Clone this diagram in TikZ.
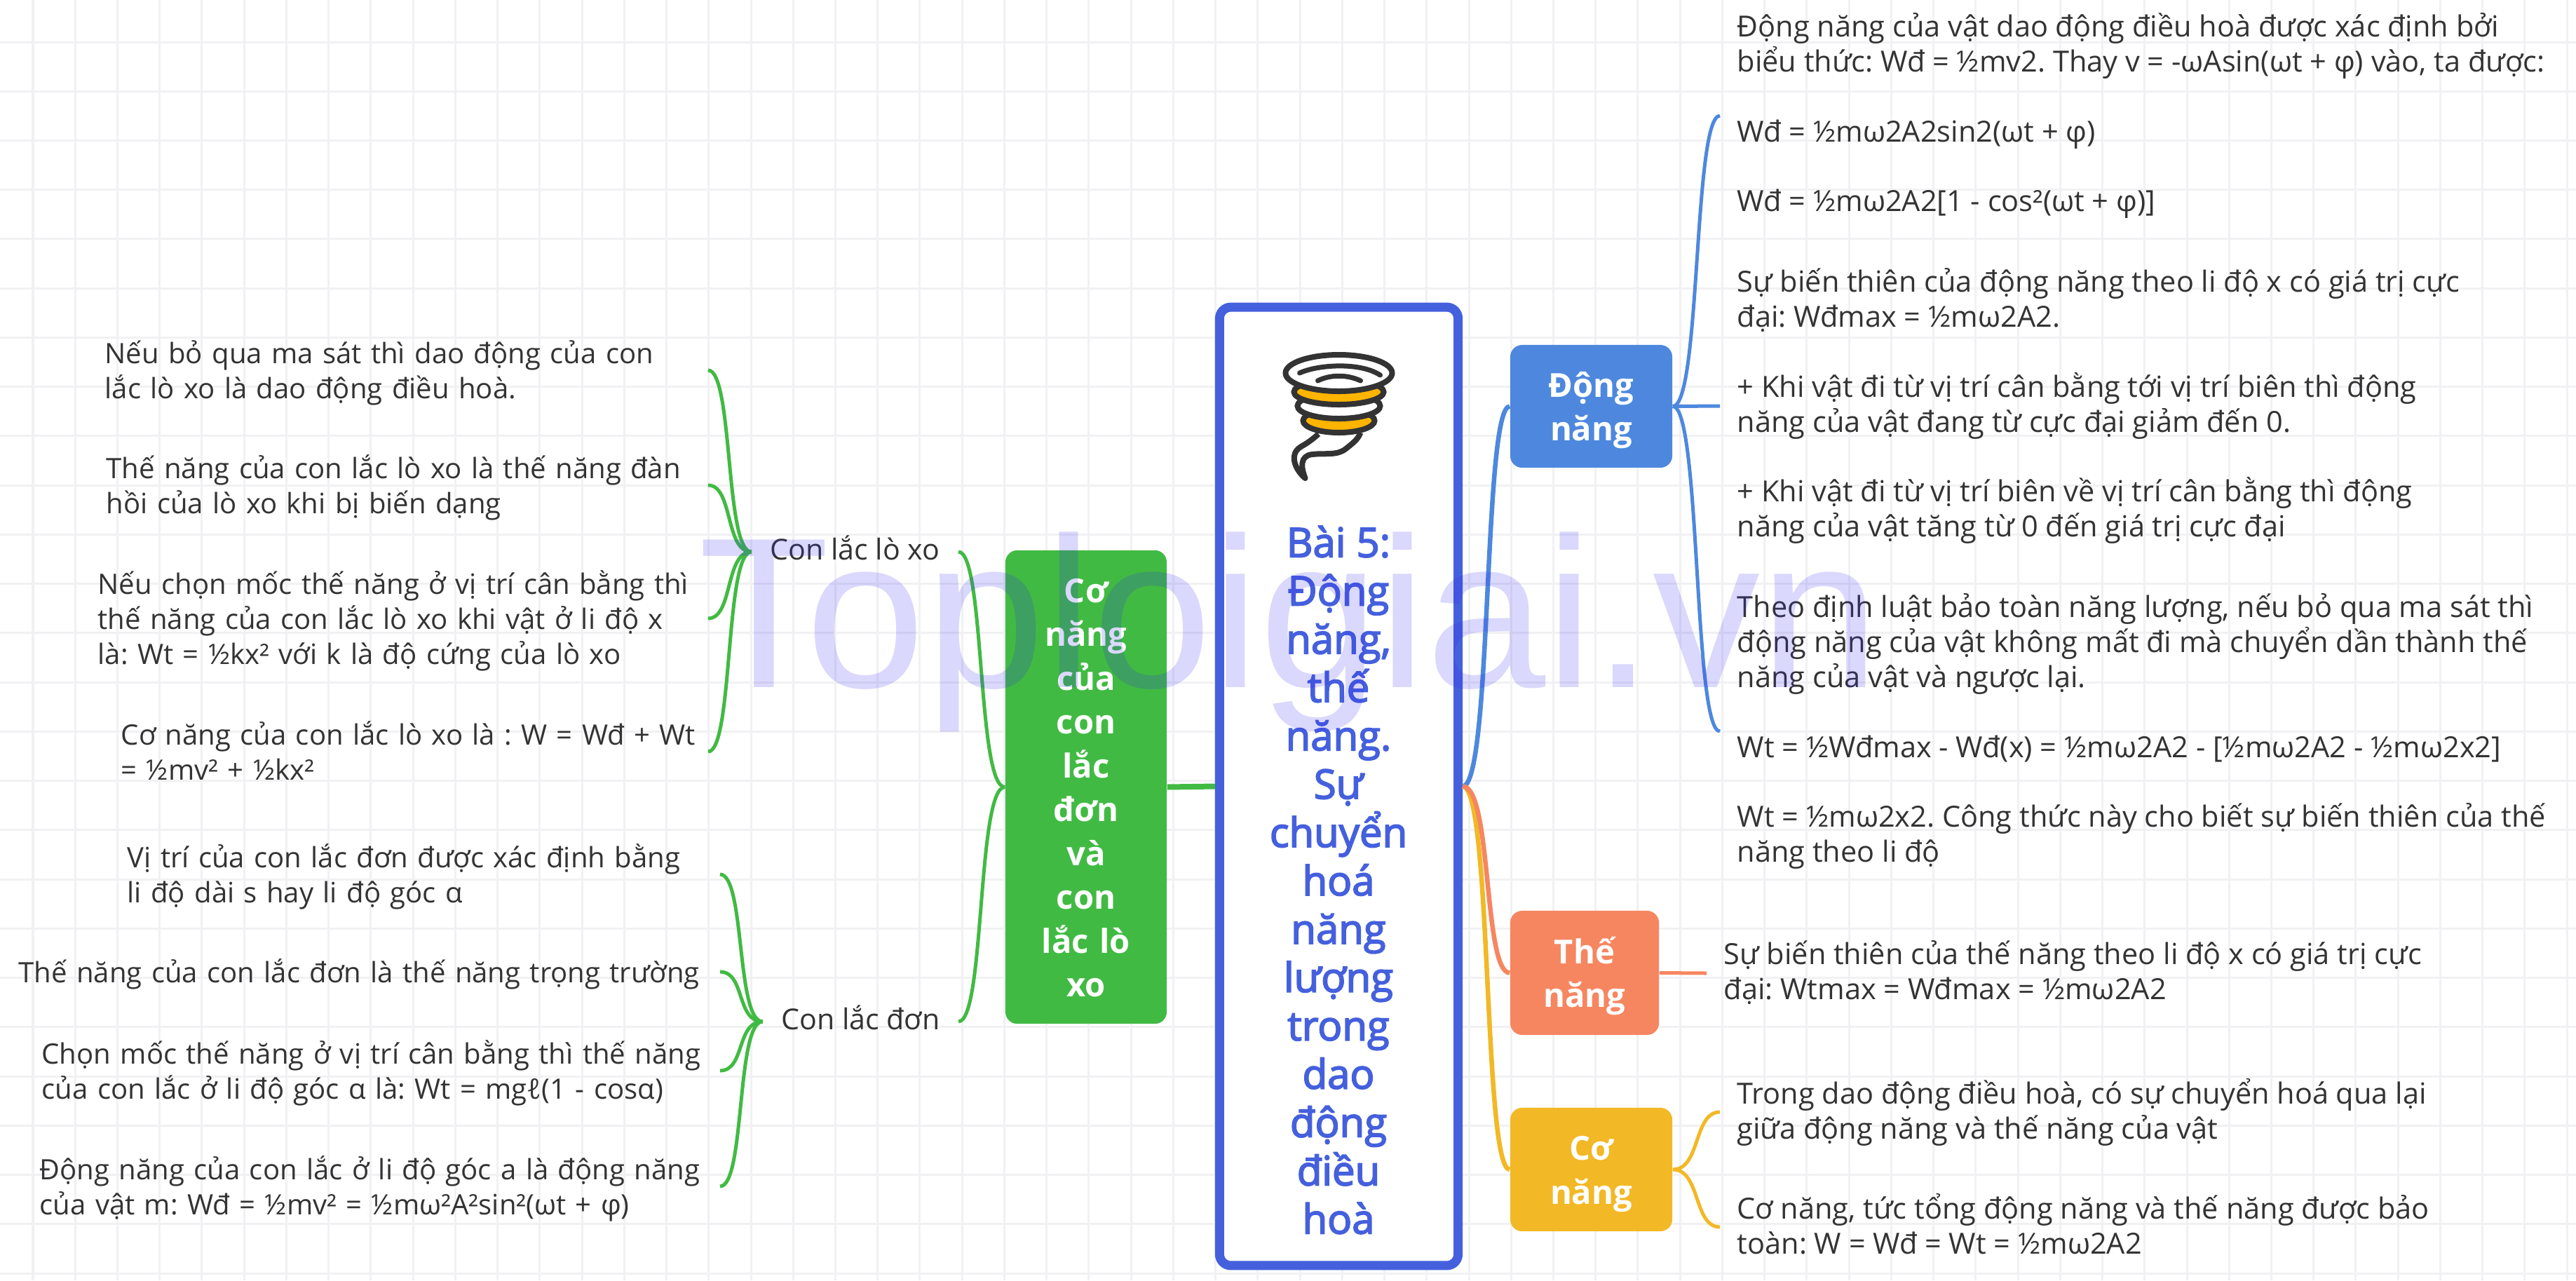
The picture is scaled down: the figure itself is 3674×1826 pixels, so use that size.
\documentclass[tikz,border=0pt]{standalone}
\usepackage{fontspec}
\setmainfont{Open Sans}
\newfontfamily\semiFont[FakeBold=3]{Open Sans}
\newfontfamily\markFont{Liberation Sans}
\frenchspacing
\definecolor{mainBlue}{HTML}{4560DD}
\definecolor{skyBlue}{HTML}{4D88DE}
\definecolor{coral}{HTML}{F68660}
\definecolor{amber}{HTML}{F2B825}
\definecolor{swirlGold}{HTML}{FFB400}
\definecolor{leafGreen}{HTML}{41BA43}
\definecolor{inkGray}{HTML}{333333}
\definecolor{gridGray}{HTML}{F1F1F4}
\definecolor{markBlue}{RGB}{50,40,240}
\tikzset{
    tornado/.pic={
		\draw[inkGray, line width=.08cm, fill=white, line join=round] (-29,87) .. controls (-38,95) and (-45,100) .. (-54,105) .. controls (-66,112) and (-66,125) .. (-59,137) .. controls (-56,142) and (-52,147) .. (-48,150) .. controls (-54,135) and (-56,118) .. (-38,116) .. controls (-20,114) and (-2,118) .. (10,108) .. controls (20,100) and (27,95) .. (31,85);
		\draw[inkGray, line width=.08cm, fill=swirlGold] (0,68) ellipse (51 and 17);
		\draw[inkGray, line width=.08cm, fill=white] (0,47) ellipse (59 and 18);
		\draw[inkGray, line width=.08cm, fill=swirlGold] (0,27) ellipse (64 and 18);
		\draw[inkGray, line width=.08cm, fill=white] (0,0) ellipse (76 and 26);
		\draw[inkGray, line width=.07cm, line cap=round] (-56,0) .. controls (-30,-12) and (30,-16) .. (59,3);
		\draw[inkGray, line width=.07cm, line cap=round] (-30,11) .. controls (-12,2) and (12,2) .. (31,11);
	}
}
\tikzset{
    evenText/.style={execute at begin node={\rule{0pt}{#1}}, execute at end node={\rule[-.24em]{0pt}{.24em}}},
    mainBox/.style={draw=mainBlue, fill=white, line width=.13cm, rounded corners=.16cm, minimum width=3.4cm, minimum height=13.66cm, inner sep=0pt},
    mainTitle/.style={text=mainBlue, align=center, inner sep=0pt, font=\semiFont\fontsize{16.5}{19.6}\selectfont},
    branchBox/.style={evenText=1em, rounded corners=.17cm, text=white, align=center, inner sep=0pt, font=\bfseries\fontsize{13.4}{17.78}\selectfont},
    leafLeft/.style={evenText=1em, text=inkGray, align=left, inner sep=0pt, anchor=west, font=\fontsize{11.4}{14.2}\selectfont},
    leafRight/.style={evenText=1.25em, text=inkGray, align=left, inner xsep=.24cm, inner ysep=0pt, anchor=west, font=\fontsize{11.8}{14.2}\selectfont},
    subTopic/.style={text=inkGray, inner xsep=.26cm, inner ysep=0pt, anchor=east, text depth=.34em, font=\fontsize{11.7}{14.2}\selectfont},
    gridLine/.style={gridGray, line width=.03cm},
    linkThick/.style={line width=.065cm},
    linkThin/.style={line width=.05cm}
}

\begin{document}
\begin{tikzpicture}[x=.01cm,y=-.01cm]
        \useasboundingbox (0,0) rectangle (3674,1826);
        \fill[white] (0,0) rectangle (3674,1826);
        \draw[gridLine, shift={(47,60)}, xstep=.602cm, ystep=.702cm] (-47,-60) grid (3627,1766);

        \node[mainBox] (main) at (1909.5,1121.5) {};
        \pic at (1909.5,532) {tornado};
        \node[mainTitle] (mainText) at (1909,1255) {Bài 5:\\Động\\năng,\\thế\\năng.\\Sự\\chuyển\\hoá\\năng\\lượng\\trong\\dao\\động\\điều\\hoà};

        \node[branchBox, fill=leafGreen, text width=2.3cm, minimum height=6.75cm] (pendulum) at (1549,1122.5) {Cơ\\năng\\của\\con\\lắc\\đơn\\và\\con\\lắc lò\\xo};
        \node[branchBox, fill=skyBlue, text width=2.31cm, minimum height=1.75cm] (kinetic) at (2269.5,579.5) {Động\\năng};
        \node[branchBox, fill=coral, text width=2.12cm, minimum height=1.77cm] (potential) at (2260,1387.5) {Thế\\năng};
        \node[branchBox, fill=amber, text width=2.31cm, minimum height=1.76cm] (energy) at (2269.5,1668) {Cơ\\năng};

        \node[subTopic] (spring) at (1367,787) {Con lắc lò xo};
        \node[subTopic] (simple) at (1367,1457) {Con lắc đơn};

        \node[leafLeft, text width=8.59cm] (springA) at (149,528) {Nếu bỏ qua ma sát thì dao động của con\\lắc lò xo là dao động điều hoà.};
        \node[leafLeft, text width=8.57cm] (springB) at (151,692) {Thế năng của con lắc lò xo là thế năng đàn\\hồi của lò xo khi bị biến dạng};
        \node[leafLeft, text width=8.69cm] (springC) at (139,882) {Nếu chọn mốc thế năng ở vị trí cân bằng thì\\thế năng của con lắc lò xo khi vật ở li độ x\\là: Wt = ½kx² với k là độ cứng của lò xo};
        \node[leafLeft, text width=8.36cm] (springD) at (172,1072) {Cơ năng của con lắc lò xo là : W = Wđ + Wt\\= ½mv² + ½kx²};

        \node[leafLeft, text width=8.44cm] (simpleA) at (181,1247) {Vị trí của con lắc đơn được xác định bằng\\li độ dài s hay li độ góc α};
        \node[leafLeft, text width=9.99cm] (simpleB) at (26,1386) {Thế năng của con lắc đơn là thế năng trọng trường};
        \node[leafLeft, text width=9.66cm] (simpleC) at (59,1527) {Chọn mốc thế năng ở vị trí cân bằng thì thế năng\\của con lắc ở li độ góc α là: Wt = mgℓ(1 - cosα)};
        \node[leafLeft, text width=9.69cm] (simpleD) at (56,1692) {Động năng của con lắc ở li độ góc a là động năng\\của vật m: Wđ = ½mv² = ½mω²A²sin²(ωt + φ)};

        \node[leafRight] (kineticA) at (2453,165) {Động năng của vật dao động điều hoà được xác định bởi\\biểu thức: Wđ = ½mv2. Thay v = -ωAsin(ωt + φ) vào, ta được:\\[14.2pt]Wđ = ½mω2A2sin2(ωt + φ)\\[14.2pt]Wđ = ½mω2A2[1 - cos²(ωt + φ)]};
        \node[leafRight] (kineticB) at (2453,579) {Sự biến thiên của động năng theo li độ x có giá trị cực\\đại: Wđmax = ½mω2A2.\\[14.2pt]+ Khi vật đi từ vị trí cân bằng tới vị trí biên thì động\\năng của vật đang từ cực đại giảm đến 0.\\[14.2pt]+ Khi vật đi từ vị trí biên về vị trí cân bằng thì động\\năng của vật tăng từ 0 đến giá trị cực đại};
        \node[leafRight] (kineticC) at (2453,1043) {Theo định luật bảo toàn năng lượng, nếu bỏ qua ma sát thì\\động năng của vật không mất đi mà chuyển dần thành thế\\năng của vật và ngược lại.\\[14.2pt]Wt = ½Wđmax - Wđ(x) = ½mω2A2 - [½mω2A2 - ½mω2x2]\\[14.2pt]Wt = ½mω2x2. Công thức này cho biết sự biến thiên của thế\\năng theo li độ};
        \node[leafRight] (potentialA) at (2434,1388) {Sự biến thiên của thế năng theo li độ x có giá trị cực\\đại: Wtmax = Wđmax = ½mω2A2};
        \node[leafRight] (energyA) at (2453,1586) {Trong dao động điều hoà, có sự chuyển hoá qua lại\\giữa động năng và thế năng của vật};
        \node[leafRight] (energyB) at (2453,1750) {Cơ năng, tức tổng động năng và thế năng được bảo\\toàn: W = Wđ = Wt = ½mω2A2};

        \draw[skyBlue, linkThick] (main.east) .. controls +(42,0) and +(-38,0) .. (kinetic.west);
        \draw[amber, linkThick] (main.east) .. controls +(42,0) and +(-38,0) .. (energy.west);
        \draw[coral, linkThick] (main.east) .. controls +(42,0) and +(-38,0) .. (potential.west);
        \draw[leafGreen, line width=.08cm] (pendulum.east) -- (main.west);

        \draw[skyBlue, linkThin] (kinetic.east) .. controls +(40,0) and +(-38,0) .. (kineticA.west);
        \draw[skyBlue, linkThin] (kinetic.east) -- (kineticB.west);
        \draw[skyBlue, linkThin] (kinetic.east) .. controls +(40,0) and +(-38,0) .. (kineticC.west);
        \draw[coral, linkThin] (potential.east) -- (potentialA.west);
        \draw[amber, linkThin] (energy.east) .. controls +(40,0) and +(-38,0) .. (energyA.west);
        \draw[amber, linkThin] (energy.east) .. controls +(40,0) and +(-38,0) .. (energyB.west);

        \draw[leafGreen, linkThin] (pendulum.west) .. controls +(-40,0) and +(38,0) .. (spring.east);
        \draw[leafGreen, linkThin] (pendulum.west) .. controls +(-40,0) and +(38,0) .. (simple.east);
        \draw[leafGreen, linkThin] (spring.west) .. controls +(-38,0) and +(36,0) .. (springA.east);
        \draw[leafGreen, linkThin] (spring.west) .. controls +(-38,0) and +(36,0) .. (springB.east);
        \draw[leafGreen, linkThin] (spring.west) .. controls +(-38,0) and +(36,0) .. (springC.east);
        \draw[leafGreen, linkThin] (spring.west) .. controls +(-38,0) and +(36,0) .. (springD.east);
        \draw[leafGreen, linkThin] (simple.west) .. controls +(-38,0) and +(36,0) .. (simpleA.east);
        \draw[leafGreen, linkThin] (simple.west) .. controls +(-38,0) and +(36,0) .. (simpleB.east);
        \draw[leafGreen, linkThin] (simple.west) .. controls +(-38,0) and +(36,0) .. (simpleC.east);
        \draw[leafGreen, linkThin] (simple.west) .. controls +(-38,0) and +(36,0) .. (simpleD.east);

        \node[anchor=base west, inner sep=0pt, text=markBlue, text opacity=.18, font=\markFont\fontsize{87}{87}\selectfont] (mark) at (996,980) {Toploigiai.vn};
      \end{tikzpicture}
\end{document}
